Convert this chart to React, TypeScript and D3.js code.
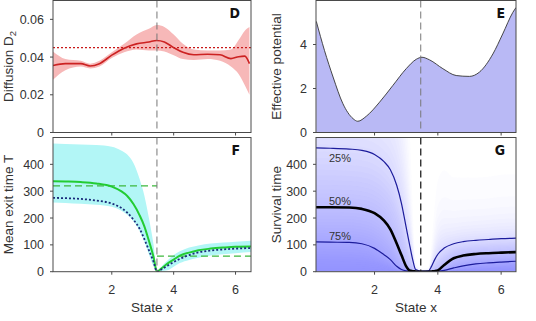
import React from 'react';
import * as d3 from 'd3';

// ---------- shared ----------
const xTicks = [2, 4, 6];
const separatrix = 3.46;

// ---------- Panel D: diffusion ----------
const dX = [0.1, 0.5, 1.0, 1.3, 1.6, 2.0, 2.4, 2.8, 3.2, 3.45, 3.7, 4.0, 4.3, 4.65, 5.1, 5.5, 5.85, 6.1, 6.3, 6.45];
const dMean = [0.0355, 0.0365, 0.0365, 0.0353, 0.0365, 0.041, 0.0447, 0.047, 0.048, 0.0488, 0.048, 0.045, 0.0425, 0.0412, 0.0415, 0.0412, 0.0392, 0.0402, 0.0405, 0.0365];
const dUpper = [0.043, 0.039, 0.038, 0.0365, 0.038, 0.0425, 0.047, 0.052, 0.055, 0.057, 0.056, 0.052, 0.047, 0.044, 0.0435, 0.0435, 0.044, 0.049, 0.054, 0.056];
const dLower = [0.028, 0.033, 0.035, 0.034, 0.035, 0.0395, 0.0425, 0.044, 0.0435, 0.0435, 0.043, 0.041, 0.039, 0.0385, 0.039, 0.038, 0.035, 0.031, 0.025, 0.02];
const dRef = 0.045;
const dYTicks = [0, 0.02, 0.04, 0.06];

// ---------- Panel E: effective potential ----------
const eX = [0.16, 0.42, 0.69, 1.0, 1.32, 1.47, 1.74, 2.16, 2.58, 3.0, 3.32, 3.5, 3.74, 4.16, 4.58, 5.0, 5.31, 5.74, 6.05, 6.37, 6.47];
const eV = [5.05, 3.72, 2.52, 1.31, 0.63, 0.51, 0.74, 1.38, 2.14, 2.9, 3.33, 3.42, 3.3, 2.9, 2.59, 2.55, 2.74, 3.57, 4.48, 5.46, 5.68];
const eYTicks = [0, 2, 4];

// ---------- Panel F: mean exit time ----------
const fX = [0.1, 0.5, 1.0, 1.5, 2.0, 2.3, 2.5, 2.7, 2.9, 3.05, 3.2, 3.35, 3.46, 3.6, 3.8, 4.0, 4.2, 4.5, 4.8, 5.2, 5.6, 6.0, 6.5];
const fUpper = [478, 476, 474, 472, 466, 452, 437, 405, 345, 285, 200, 100, 0, 18, 42, 62, 76, 90, 98, 105, 109, 112, 115];
const fLower = [258, 256, 253, 249, 242, 228, 212, 188, 152, 113, 65, 20, 0, 2, 5, 18, 32, 44, 52, 60, 65, 69, 73];
const fNumeric = [337, 336, 334, 329, 317, 300, 282, 252, 210, 170, 115, 55, 0, 12, 30, 45, 60, 71, 80, 86, 90, 93, 94];
const fAnalytic = [275, 274, 271, 265, 254, 238, 220, 194, 160, 122, 80, 37, 0, 8, 22, 36, 48, 62, 72, 79, 83, 86, 88];
const fLeftMean = 320;
const fRightMean = 58;
const fYTicks = [0, 100, 200, 300, 400];

// ---------- Panel G: survival time quantiles ----------
const gX = [0.15, 0.6, 1.2, 1.6, 2.0, 2.3, 2.5, 2.7, 2.85, 3.0, 3.1, 3.2, 3.3, 3.5, 3.7, 3.8, 3.9, 4.0, 4.2, 4.5, 4.8, 5.2, 5.6, 6.0, 6.47];
const g25 = [461, 460, 457, 452, 437, 410, 380, 322, 255, 165, 105, 48, 8, 2, 3, 20, 45, 65, 88, 104, 112, 117, 120, 123, 125];
const g50 = [240, 240, 239, 234, 218, 190, 158, 105, 62, 20, 5, 2, 1, 0, 0, 1, 2, 5, 25, 50, 60, 66, 69, 71, 73];
const g75 = [111, 110, 109, 104, 87, 63, 45, 20, 8, 3, 2, 1, 0, 0, 0, 0, 0, 2, 5, 14, 22, 29, 33, 36, 39];
const gLabels = ['25%', '50%', '75%'];
const gYTicks = [0, 100, 200, 300, 400];

const FONT = '"Liberation Sans", Arial, Helvetica, sans-serif';
const LETTER_FONT = '"Liberation Sans Narrow", "DejaVu Sans Condensed", "Liberation Sans", sans-serif';

type Box = { x0: number; x1: number; y0: number; y1: number };

function Frame({ box, x, y, yTicks, fmt, showX, letter, dashColor }: any) {
  return (
    <g>
      <line x1={x(separatrix)} x2={x(separatrix)} y1={box.y0} y2={box.y1} stroke={dashColor} strokeWidth={dashColor === '#222' ? 1.3 : 1} strokeDasharray="7,4" />
      <rect x={box.x0} y={box.y0} width={box.x1 - box.x0} height={box.y1 - box.y0} fill="none" stroke="#4a4a4a" strokeWidth={1} />
      {yTicks.map((t: number) => (
        <g key={'y' + t}>
          <line x1={box.x0 - 3} x2={box.x0} y1={y(t)} y2={y(t)} stroke="#4a4a4a" />
          <text x={box.x0 - 9} y={y(t)} dy="0.36em" textAnchor="end" fontSize={12.5} fill="#333" fontFamily={FONT}>{fmt(t)}</text>
        </g>
      ))}
      {xTicks.map((t) => (
        <g key={'x' + t}>
          <line x1={x(t)} x2={x(t)} y1={box.y1} y2={box.y1 + 3} stroke="#4a4a4a" />
          {showX && (
            <text x={x(t)} y={box.y1 + 18} dy="0.36em" textAnchor="middle" fontSize={12.5} fill="#333" fontFamily={FONT}>{t}</text>
          )}
        </g>
      ))}
      <text x={box.x1 - 11} y={box.y0 + 17} textAnchor="end" fontSize={14} fontWeight="bold" fill="#111" fontFamily={LETTER_FONT}>{letter}</text>
    </g>
  );
}

export default function App() {
  const L = { x0: 53, x1: 251 };
  const R = { x0: 316, x1: 516 };
  const T = { y0: 0.5, y1: 132.5 };
  const B = { y0: 137.5, y1: 271.7 };
  const boxD: Box = { ...L, ...T };
  const boxE: Box = { ...R, ...T };
  const boxF: Box = { ...L, ...B };
  const boxG: Box = { ...R, ...B };

  const xL = d3.scaleLinear().domain([0.1, 6.5]).range([L.x0, L.x1]);
  const xR = d3.scaleLinear().domain([0.15, 6.47]).range([R.x0, R.x1]);
  const yD = d3.scaleLinear().domain([0, 0.07]).range([T.y1, T.y0]);
  const yE = d3.scaleLinear().domain([0, 6]).range([T.y1, T.y0]);
  const yF = d3.scaleLinear().domain([0, 500]).range([B.y1, B.y0]);
  const yG = d3.scaleLinear().domain([0, 500]).range([B.y1, B.y0]);

  const curve = d3.curveMonotoneX;

  // D
  const dBand = d3.area<number>().x((_, i) => xL(dX[i])).y0((_, i) => yD(dLower[i])).y1((_, i) => yD(dUpper[i])).curve(curve)(dX) || '';
  const dLine = d3.line<number>().x((_, i) => xL(dX[i])).y((v) => yD(v)).curve(curve)(dMean) || '';

  // E
  const eArea = d3.area<number>().x((_, i) => xR(eX[i])).y0(yE(0)).y1((v) => yE(v)).curve(curve)(eV) || '';
  const eLine = d3.line<number>().x((_, i) => xR(eX[i])).y((v) => yE(v)).curve(curve)(eV) || '';

  // F
  const fBand = d3.area<number>().x((_, i) => xL(fX[i])).y0((_, i) => yF(fLower[i])).y1((_, i) => yF(fUpper[i])).curve(curve)(fX) || '';
  const fLineGen = d3.line<number>().x((_, i) => xL(fX[i])).y((v) => yF(v)).curve(curve);

  // G: shading as stacked survival-probability bands between quantile contours
  const N = 48;
  const sK = [0, -Math.log(0.75), -Math.log(0.5), -Math.log(0.25)];
  const tAt = (i: number, s: number) => {
    const tk = [0, g75[i], g50[i], g25[i]];
    if (s <= sK[3]) {
      for (let k = 0; k < 3; k++) {
        if (s <= sK[k + 1]) return tk[k] + ((s - sK[k]) / (sK[k + 1] - sK[k])) * (tk[k + 1] - tk[k]);
      }
    }
    return tk[3] + (s - sK[3]) * ((tk[3] - tk[2]) / (sK[3] - sK[2]));
  };
  const levels = d3.range(N).map((k) => (k + 0.5) / N);
  const gBands = levels.map((q) => {
    const s = -Math.log(q);
    return d3.area<number>().x((_, i) => xR(gX[i])).y0(yG(0)).y1((_, i) => yG(tAt(i, s))).curve(curve)(gX) || '';
  });
  const gLineGen = d3.line<number>().x((_, i) => xR(gX[i])).y((v) => yG(v)).curve(curve);

  const fmtD = (d: number) => (d === 0 ? '0' : d.toFixed(2));
  const fmtN = (d: number) => String(d);
  const labelOffsets = [14.5, -2.5, -1.5];

  return (
    <svg width={536} height={321} style={{ position: 'absolute', left: 0, top: 0, background: '#fff' }} fontFamily={FONT}>
      <defs>
        {[['cD', boxD], ['cE', boxE], ['cF', boxF], ['cG', boxG]].map(([id, b]: any) => (
          <clipPath id={id} key={id}>
            <rect x={b.x0} y={b.y0} width={b.x1 - b.x0} height={b.y1 - b.y0} />
          </clipPath>
        ))}
      </defs>

      {/* Panel D */}
      <g clipPath="url(#cD)">
        <path d={dBand} fill="#f7b8b8" />
        <line x1={L.x0} x2={L.x1} y1={yD(dRef)} y2={yD(dRef)} stroke="#c81818" strokeWidth={1.2} strokeDasharray="2,2" />
        <path d={dLine} fill="none" stroke="#cc2222" strokeWidth={1.6} />
      </g>
      <Frame box={boxD} x={xL} y={yD} yTicks={dYTicks} fmt={fmtD} showX={false} letter="D" dashColor="#777" />

      {/* Panel E */}
      <g clipPath="url(#cE)">
        <path d={eArea} fill="#b9b9f5" />
        <path d={eLine} fill="none" stroke="#333" strokeWidth={0.9} />
      </g>
      <Frame box={boxE} x={xR} y={yE} yTicks={eYTicks} fmt={fmtN} showX={false} letter="E" dashColor="#777" />

      {/* Panel F */}
      <g clipPath="url(#cF)">
        <path d={fBand} fill="#b2f6f6" />
        <line x1={L.x0} x2={xL(separatrix)} y1={yF(fLeftMean)} y2={yF(fLeftMean)} stroke="#3cb83c" strokeWidth={1.2} strokeDasharray="7,4" />
        <line x1={xL(separatrix)} x2={L.x1} y1={yF(fRightMean)} y2={yF(fRightMean)} stroke="#3cb83c" strokeWidth={1.2} strokeDasharray="7,4" />
        <path d={fLineGen(fNumeric) || ''} fill="none" stroke="#22cc33" strokeWidth={2} />
        <path d={fLineGen(fAnalytic) || ''} fill="none" stroke="#1a2a7a" strokeWidth={1.8} strokeDasharray="2,2" />
      </g>
      <Frame box={boxF} x={xL} y={yF} yTicks={fYTicks} fmt={fmtN} showX={true} letter="F" dashColor="#777" />

      {/* Panel G */}
      <g clipPath="url(#cG)">
        {gBands.map((d, k) => (
          <path key={k} d={d} fill="#6464e6" fillOpacity={0.019} />
        ))}
        <path d={gLineGen(g25) || ''} fill="none" stroke="#1c1c9c" strokeWidth={1.2} />
        <path d={gLineGen(g75) || ''} fill="none" stroke="#1c1c9c" strokeWidth={1.2} />
        <path d={gLineGen(g50) || ''} fill="none" stroke="#000" strokeWidth={2.6} />
      </g>
      {[g25, g50, g75].map((arr, k) => (
        <text key={k} x={329} y={yG(arr[0]) + labelOffsets[k]} fontSize={11} fill="#333">{gLabels[k]}</text>
      ))}
      <Frame box={boxG} x={xR} y={yG} yTicks={gYTicks} fmt={fmtN} showX={true} letter="G" dashColor="#222" />

      {/* Axis titles */}
      <text transform={`translate(13,${(T.y0 + T.y1) / 2}) rotate(-90)`} textAnchor="middle" fontSize={13.5} fill="#333">
        Diffusion D<tspan fontSize={9.5} dy="3">2</tspan>
      </text>
      <text transform={`translate(281,${(T.y0 + T.y1) / 2}) rotate(-90)`} textAnchor="middle" fontSize={13.5} fill="#333">Effective potential</text>
      <text transform={`translate(13,${(B.y0 + B.y1) / 2}) rotate(-90)`} textAnchor="middle" fontSize={13.5} fill="#333">Mean exit time T</text>
      <text transform={`translate(281,${(B.y0 + B.y1) / 2}) rotate(-90)`} textAnchor="middle" fontSize={13.5} fill="#333">Survival time</text>
      <text x={(L.x0 + L.x1) / 2} y={312} textAnchor="middle" fontSize={13.5} fill="#333">State x</text>
      <text x={(R.x0 + R.x1) / 2} y={312} textAnchor="middle" fontSize={13.5} fill="#333">State x</text>
    </svg>
  );
}
